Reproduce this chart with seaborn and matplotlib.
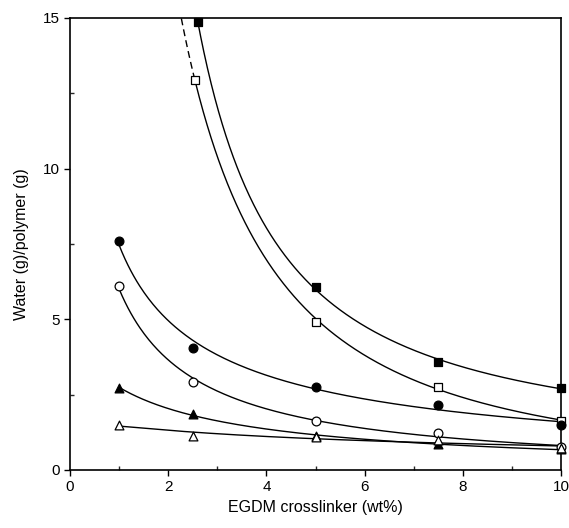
import numpy as np
import pandas as pd
import matplotlib
matplotlib.use("Agg")
import matplotlib.pyplot as plt
import seaborn as sns
from matplotlib.ticker import MultipleLocator

sns.set_theme(style="white")
plt.rcParams['font.family'] = ['Liberation Sans', 'DejaVu Sans']

# Data
x_sq = [2.6, 5.0, 7.5, 10.0]
y_sq_filled = [14.85, 6.08, 3.59, 2.72]
x_sq_open = [2.55, 5.0, 7.5, 10.0]
y_sq_open = [12.95, 4.92, 2.76, 1.63]
x_all = [1.0, 2.5, 5.0, 7.5, 10.0]
y_circ_filled = [7.6, 4.05, 2.76, 2.16, 1.5]
y_circ_open = [6.1, 2.92, 1.63, 1.23, 0.75]
y_tri_filled = [2.72, 1.86, 1.13, 0.85, 0.68]
y_tri_open = [1.5, 1.13, 1.1, 1.0, 0.72]

series = [
    ("sq_f", x_sq, y_sq_filled, "s", True),
    ("sq_o", x_sq_open, y_sq_open, "s", False),
    ("ci_f", x_all, y_circ_filled, "o", True),
    ("ci_o", x_all, y_circ_open, "o", False),
    ("tr_f", x_all, y_tri_filled, "^", True),
    ("tr_o", x_all, y_tri_open, "^", False),
]

fig = plt.figure(figsize=(5.69, 5.28), dpi=100)
ax = fig.add_axes([0.123, 0.110, 0.863, 0.856])


def fit_curve(xs, ys, deg, x0, x1, n=300):
    lx, ly = np.log(xs), np.log(ys)
    p = np.polyfit(lx, ly, deg)
    xx = np.linspace(x0, x1, n)
    return xx, np.exp(np.polyval(p, np.log(xx)))


for name, xs, ys, mk, filled in series:
    xs = np.array(xs); ys = np.array(ys)
    deg = 2 if len(xs) > 3 else 1
    if name == "sq_f":
        xx, yy = fit_curve(xs, ys, 2, 2.5, 10.0, 600)
        m = yy <= 15
        sns.lineplot(x=xx[m], y=yy[m], ax=ax, color="black", lw=1.0)
    elif name == "sq_o":
        xx, yy = fit_curve(xs, ys, 2, 2.1, 10.0, 800)
        m = yy <= 15
        d = m & (xx <= xs[0])
        s = xx >= xs[0]
        sns.lineplot(x=xx[d], y=yy[d], ax=ax, color="black", lw=1.0, linestyle=(0, (5, 3)))
        sns.lineplot(x=xx[s], y=yy[s], ax=ax, color="black", lw=1.0)
    else:
        xx, yy = fit_curve(xs, ys, deg, 1.0, 10.0)
        sns.lineplot(x=xx, y=yy, ax=ax, color="black", lw=1.0)
    sns.scatterplot(x=xs, y=ys, ax=ax, marker=mk, s=40,
                    color="black" if filled else "white",
                    edgecolor="black", linewidth=0.9, zorder=5, clip_on=False)

ax.set_xlim(0, 10)
ax.set_ylim(0, 15)
ax.xaxis.set_major_locator(MultipleLocator(2))
ax.xaxis.set_minor_locator(MultipleLocator(1))
ax.yaxis.set_major_locator(MultipleLocator(5))
ax.yaxis.set_minor_locator(MultipleLocator(2.5))
ax.tick_params(which="major", direction="out", length=4, width=1, labelsize=11, colors="black")
ax.tick_params(which="minor", direction="in", length=3, width=1)
ax.tick_params(axis="both", which="both", bottom=True, left=True)
for sp in ax.spines.values():
    sp.set_color("black")
    sp.set_linewidth(1.2)
ax.set_xlabel("EGDM crosslinker (wt%)", fontsize=11.5, color="black")
ax.set_ylabel("Water (g)/polymer (g)", fontsize=11.5, color="black", labelpad=10)
fig.savefig("out.png", dpi=100)
